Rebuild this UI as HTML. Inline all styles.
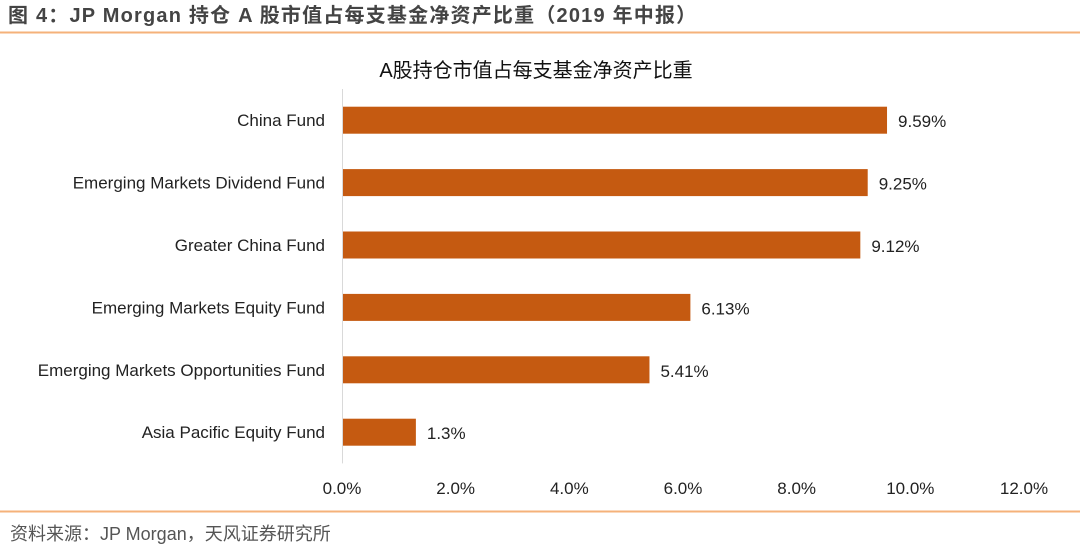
<!DOCTYPE html>
<html><head><meta charset="utf-8"><style>
body{margin:0;width:1080px;height:546px;background:#fff;overflow:hidden;font-family:"Liberation Sans","Noto Sans CJK SC",sans-serif;}
</style></head><body>
<svg width="1080" height="546" xmlns="http://www.w3.org/2000/svg">
<text x="8" y="22" font-size="20" font-weight="bold" fill="#444" letter-spacing="1.2" font-family="Liberation Sans,Noto Sans CJK SC,sans-serif">图 4：JP Morgan 持仓 A 股市值占每支基金净资产比重（2019 年中报）</text>
<line x1="0" y1="32.5" x2="1080" y2="32.5" stroke="#f5b27a" stroke-width="2"/>
<text x="536" y="77" font-size="20" fill="#111" text-anchor="middle" font-family="Liberation Sans,Noto Sans CJK SC,sans-serif">A股持仓市值占每支基金净资产比重</text>
<g id="chart"></g>
<line x1="0" y1="511.5" x2="1080" y2="511.5" stroke="#f5b27a" stroke-width="2"/>
<text x="10" y="540" font-size="18" fill="#555" font-family="Liberation Sans,Noto Sans CJK SC,sans-serif">资料来源：JP Morgan，天风证券研究所</text>
</svg>
<script>
const categories=["China Fund","Emerging Markets Dividend Fund","Greater China Fund","Emerging Markets Equity Fund","Emerging Markets Opportunities Fund","Asia Pacific Equity Fund"];
const values=[9.59,9.25,9.12,6.13,5.41,1.3];
const valueLabels=["9.59%","9.25%","9.12%","6.13%","5.41%","1.3%"];
const ticks=[0,2,4,6,8,10,12];
const tickLabels=["0.0%","2.0%","4.0%","6.0%","8.0%","10.0%","12.0%"];
const NS="http://www.w3.org/2000/svg";
const g=document.getElementById('chart');
const x0=342,x1=1024,xMax=12,plotTop=89,band=62.4,barH=27;
const xs=v=>x0+(v/xMax)*(x1-x0);
const yc=i=>plotTop+band*(i+0.5);
function mk(t,a){const e=document.createElementNS(NS,t);for(const k in a)e.setAttribute(k,a[k]);g.appendChild(e);return e;}
const ax=mk('line',{x1:x0+0.5,x2:x0+0.5,y1:plotTop,y2:plotTop+band*categories.length,stroke:'#d9d9d9'});


categories.forEach((c,i)=>{
 const r=mk('rect',{x:x0+1,y:yc(i)-barH/2,width:xs(values[i])-x0-1,height:barH,fill:'#c55a11'});
 
 
 const l=mk('text',{x:x0-17,y:yc(i)+6,'font-size':17,fill:'#222','text-anchor':'end'});
 l.textContent=c;
 
 
 const v=mk('text',{x:xs(values[i])+11,y:yc(i)+7,'font-size':17,fill:'#222'});
 v.textContent=valueLabels[i];
 
 
});
ticks.forEach((t,i)=>{
 const e=mk('text',{x:xs(t),y:494,'font-size':17,fill:'#222','text-anchor':'middle'});
 e.textContent=tickLabels[i];
 
 
});
</script>
</body></html>
